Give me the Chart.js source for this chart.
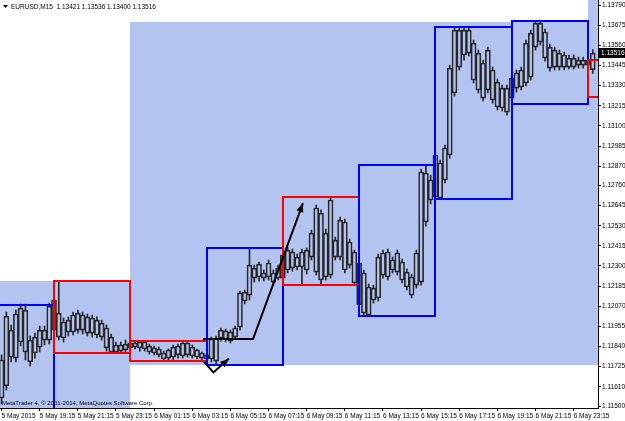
<!DOCTYPE html>
<html>
<head>
<meta charset="utf-8">
<script src="https://cdn.jsdelivr.net/npm/chart.js@4.4.1/dist/chart.umd.min.js"></script>
<style>
  html, body { margin: 0; padding: 0; background: #fff; }
  canvas { display: block; }
</style>
</head>
<body>
<canvas id="chart" width="625" height="421"></canvas>
<script>
// EURUSD M15 candles, bar 0 = 5 May 17:15
const open = [
  1.11546, 1.12014, 1.11780, 1.11774, 1.12060, 1.12048, 1.11752, 1.11803, 1.11837, 1.11934,
  1.11877, 1.11934, 1.12031, 1.11889, 1.11923, 1.11923, 1.12031, 1.12020, 1.12009, 1.12003,
  1.11991, 1.11974, 1.11946, 1.11894, 1.11809, 1.11849, 1.11820, 1.11832, 1.11860, 1.11832,
  1.11866, 1.11843, 1.11832, 1.11826, 1.11769, 1.11774, 1.11780, 1.11843, 1.11786, 1.11860,
  1.11837, 1.11820, 1.11803, 1.11769, 1.11883, 1.11757, 1.11889, 1.11929, 1.11871, 1.11894,
  1.11951, 1.12100, 1.12134, 1.12288, 1.12237, 1.12260, 1.12237, 1.12260, 1.12231, 1.12231,
  1.12391, 1.12288, 1.12351, 1.12294, 1.12277, 1.12351, 1.12265, 1.12602, 1.12237, 1.12248,
  1.12448, 1.12351, 1.12551, 1.12305, 1.12380, 1.12317, 1.12260, 1.12020, 1.12106, 1.12117,
  1.12374, 1.12237, 1.12334, 1.12265, 1.12323, 1.12265, 1.12237, 1.12191, 1.12208, 1.12831,
  1.12677, 1.12694, 1.12888, 1.12791, 1.12934, 1.13288, 1.13647, 1.13505, 1.13647, 1.13573,
  1.13516, 1.13459, 1.13305, 1.13419, 1.13350, 1.13316, 1.13316, 1.13259, 1.13316, 1.13322,
  1.13345, 1.13379, 1.13550, 1.13687, 1.13636, 1.13550, 1.13436, 1.13516, 1.13436, 1.13487,
  1.13436, 1.13476, 1.13447, 1.13476, 1.13421
];
const high = [
  1.11792, 1.12037, 1.11963, 1.12048, 1.12083, 1.12083, 1.11900, 1.11917, 1.11957, 1.11957,
  1.12088, 1.12163, 1.12214, 1.12003, 1.12009, 1.12037, 1.12048, 1.12037, 1.12026, 1.12020,
  1.12009, 1.11991, 1.11963, 1.11911, 1.11866, 1.11866, 1.11877, 1.11871, 1.11866, 1.11871,
  1.11871, 1.11854, 1.11843, 1.11837, 1.11814, 1.11826, 1.11849, 1.11854, 1.11866, 1.11871,
  1.11849, 1.11826, 1.11809, 1.11797, 1.11894, 1.11900, 1.11946, 1.11940, 1.11934, 1.11957,
  1.12157, 1.12163, 1.12403, 1.12305, 1.12323, 1.12277, 1.12334, 1.12277, 1.12305, 1.12380,
  1.12408, 1.12397, 1.12368, 1.12397, 1.12403, 1.12505, 1.12648, 1.12620, 1.12511, 1.12694,
  1.12465, 1.12580, 1.12568, 1.12454, 1.12391, 1.12334, 1.12277, 1.12197, 1.12191, 1.12368,
  1.12391, 1.12397, 1.12351, 1.12391, 1.12340, 1.12283, 1.12254, 1.12391, 1.12854, 1.12876,
  1.12819, 1.12951, 1.12905, 1.12991, 1.13447, 1.13664, 1.13664, 1.13664, 1.13659, 1.13590,
  1.13533, 1.13476, 1.13550, 1.13436, 1.13368, 1.13333, 1.13333, 1.13390, 1.13419, 1.13436,
  1.13590, 1.13647, 1.13699, 1.13699, 1.13653, 1.13567, 1.13550, 1.13533, 1.13522, 1.13505,
  1.13505, 1.13493, 1.13493, 1.13493, 1.13536
];
const low = [
  1.11512, 1.11592, 1.11752, 1.11752, 1.11843, 1.11763, 1.11729, 1.11774, 1.11809, 1.11849,
  1.11854, 1.11900, 1.11877, 1.11866, 1.11900, 1.11906, 1.11917, 1.11911, 1.11900, 1.11894,
  1.11889, 1.11877, 1.11814, 1.11803, 1.11803, 1.11803, 1.11809, 1.11820, 1.11826, 1.11814,
  1.11814, 1.11797, 1.11792, 1.11780, 1.11757, 1.11763, 1.11763, 1.11774, 1.11774, 1.11780,
  1.11774, 1.11769, 1.11763, 1.11757, 1.11752, 1.11740, 1.11871, 1.11866, 1.11860, 1.11883,
  1.11934, 1.12083, 1.12106, 1.12208, 1.12214, 1.12214, 1.12220, 1.12191, 1.12220, 1.12208,
  1.12260, 1.12271, 1.12277, 1.12191, 1.12254, 1.12334, 1.12248, 1.12197, 1.12220, 1.12231,
  1.12334, 1.12334, 1.12260, 1.12288, 1.12191, 1.12060, 1.12020, 1.12014, 1.12088, 1.12100,
  1.12231, 1.12220, 1.12260, 1.12248, 1.12203, 1.12163, 1.12117, 1.12174, 1.12191, 1.12528,
  1.12654, 1.12682, 1.12682, 1.12774, 1.12916, 1.13270, 1.13419, 1.13476, 1.13499, 1.13345,
  1.13288, 1.13242, 1.13288, 1.13230, 1.13191, 1.13185, 1.13162, 1.13225, 1.13293, 1.13305,
  1.13328, 1.13362, 1.13533, 1.13562, 1.13470, 1.13413, 1.13419, 1.13419, 1.13419, 1.13425,
  1.13425, 1.13430, 1.13430, 1.13430, 1.13400
];
const close = [
  1.11763, 1.11615, 1.11934, 1.12026, 1.11866, 1.11809, 1.11877, 1.11894, 1.11934, 1.11877,
  1.12071, 1.12106, 1.11894, 1.11980, 1.11991, 1.12020, 1.11934, 1.11934, 1.11917, 1.11917,
  1.11906, 1.11894, 1.11832, 1.11809, 1.11849, 1.11814, 1.11854, 1.11860, 1.11837, 1.11866,
  1.11826, 1.11809, 1.11803, 1.11792, 1.11803, 1.11820, 1.11837, 1.11792, 1.11860, 1.11792,
  1.11786, 1.11780, 1.11774, 1.11792, 1.11769, 1.11889, 1.11934, 1.11883, 1.11923, 1.11946,
  1.12146, 1.12151, 1.12305, 1.12231, 1.12311, 1.12231, 1.12317, 1.12208, 1.12288, 1.12363,
  1.12277, 1.12380, 1.12294, 1.12380, 1.12391, 1.12488, 1.12631, 1.12220, 1.12488, 1.12677,
  1.12351, 1.12562, 1.12277, 1.12437, 1.12203, 1.12077, 1.12031, 1.12180, 1.12174, 1.12351,
  1.12248, 1.12380, 1.12277, 1.12374, 1.12220, 1.12180, 1.12134, 1.12374, 1.12837, 1.12551,
  1.12791, 1.12934, 1.12688, 1.12974, 1.13430, 1.13647, 1.13436, 1.13647, 1.13516, 1.13362,
  1.13305, 1.13259, 1.13533, 1.13248, 1.13208, 1.13202, 1.13179, 1.13373, 1.13402, 1.13419,
  1.13573, 1.13630, 1.13687, 1.13579, 1.13487, 1.13430, 1.13533, 1.13436, 1.13505, 1.13436,
  1.13487, 1.13447, 1.13476, 1.13447, 1.13516
];

// time axis: bar index of each label, and its text
const labelBars = [0, 8, 16, 24, 32, 40, 48, 56, 64, 72, 80, 88, 96, 104, 112, 120];
const timeLabels = [
  '5 May 2015', '5 May 19:15', '5 May 21:15', '5 May 23:15', '6 May 01:15', '6 May 03:15',
  '6 May 05:15', '6 May 07:15', '6 May 09:15', '6 May 11:15', '6 May 13:15', '6 May 15:15',
  '6 May 17:15', '6 May 19:15', '6 May 21:15', '6 May 23:15'
];
// price axis ticks
const priceTicks = [
  1.11500, 1.11610, 1.11725, 1.11840, 1.11955, 1.12070, 1.12185, 1.12300, 1.12415, 1.12530,
  1.12645, 1.12760, 1.12870, 1.12985, 1.13100, 1.13215, 1.13330, 1.13445, 1.13560, 1.13675, 1.13790
];

// 4-hour range boxes (bar index from / to, high, low, direction)
const boxFrom = [-5, 11, 27, 43, 59, 75, 91, 107, 123];
const boxTo = [11, 27, 43, 59, 75, 91, 107, 123, 139];
const boxHigh = [1.12080, 1.12214, 1.11873, 1.12404, 1.12695, 1.12876, 1.13664, 1.13699, 1.13476];
const boxLow = [1.11000, 1.11803, 1.11757, 1.11736, 1.12191, 1.12014, 1.12682, 1.13225, 1.13265];
const boxDir = ['up', 'down', 'down', 'up', 'down', 'up', 'up', 'up', 'down'];

// shaded areas (bar index from / to, top price, bottom price)
const shadeFrom = [-5, 27, 123];
const shadeTo = [27, 140, 140];
const shadeTop = [1.12214, 1.13693, 1.14000];
const shadeBottom = [1.11000, 1.11734, 1.13265];

// hand-drawn arrows, [bar index, price] points
const breakoutArrow = [[42.25, 1.11883], [52.74, 1.11883], [63.22, 1.12659]];
const dipArrow = [[42.46, 1.11752], [44.45, 1.11692], [47.7, 1.11771]];

const SHADE = '#b4c4f0';
const CANDLE = '#262626';
const FONT = '"Liberation Sans", Arial, sans-serif';

const idx = open.map((_, i) => i);
const upperWick = idx.map(i => ({ x: i, y: [Math.max(open[i], close[i]), high[i]] }));
const lowerWick = idx.map(i => ({ x: i, y: [low[i], Math.min(open[i], close[i])] }));
const bodies = idx.map(i => ({ x: i, y: [open[i], close[i]] }));

function arrowLine(ctx, chart, pts) {
  const xs = chart.scales.x, ys = chart.scales.y;
  const p = pts.map(([b, v]) => [xs.getPixelForValue(b), ys.getPixelForValue(v)]);
  ctx.strokeStyle = '#000';
  ctx.lineWidth = 2;
  ctx.beginPath();
  p.forEach(([x, y], k) => (k ? ctx.lineTo(x, y) : ctx.moveTo(x, y)));
  ctx.stroke();
  // arrow head at the last point
  const [x1, y1] = p[p.length - 1];
  const [x0, y0] = p[p.length - 2];
  const a = Math.atan2(y1 - y0, x1 - x0);
  ctx.fillStyle = '#000';
  ctx.beginPath();
  ctx.moveTo(x1, y1);
  ctx.lineTo(x1 - 9 * Math.cos(a) + 3.5 * Math.sin(a), y1 - 9 * Math.sin(a) - 3.5 * Math.cos(a));
  ctx.lineTo(x1 - 9 * Math.cos(a) - 3.5 * Math.sin(a), y1 - 9 * Math.sin(a) + 3.5 * Math.cos(a));
  ctx.closePath();
  ctx.fill();
}

const mt4Plugin = {
  id: 'mt4',
  beforeDatasetsDraw(chart) {
    const { ctx, chartArea: a } = chart;
    const xs = chart.scales.x, ys = chart.scales.y;
    ctx.save();
    ctx.beginPath();
    ctx.rect(a.left, a.top, a.right - a.left, a.bottom - a.top);
    ctx.clip();
    ctx.fillStyle = SHADE;
    shadeFrom.forEach((f, k) => {
      const x0 = Math.round(xs.getPixelForValue(f));
      const x1 = Math.round(xs.getPixelForValue(shadeTo[k]));
      const y0 = Math.round(ys.getPixelForValue(shadeTop[k]));
      const y1 = Math.round(ys.getPixelForValue(shadeBottom[k]));
      ctx.fillRect(x0, y0, x1 - x0, y1 - y0);
    });
    ctx.restore();
  },
  afterDatasetsDraw(chart) {
    const { ctx, chartArea: a } = chart;
    const xs = chart.scales.x, ys = chart.scales.y;
    ctx.save();
    ctx.beginPath();
    ctx.rect(a.left, a.top, a.right - a.left, a.bottom - a.top);
    ctx.clip();
    ctx.lineWidth = 2;
    boxFrom.forEach((f, k) => {
      const x0 = Math.round(xs.getPixelForValue(f));
      const x1 = Math.round(xs.getPixelForValue(boxTo[k]));
      const y0 = Math.round(ys.getPixelForValue(boxHigh[k]));
      const y1 = Math.round(ys.getPixelForValue(boxLow[k]));
      ctx.strokeStyle = boxDir[k] === 'up' ? '#0000ff' : '#ff0000';
      ctx.strokeRect(x0, y0, x1 - x0, y1 - y0);
    });
    arrowLine(ctx, chart, breakoutArrow);
    arrowLine(ctx, chart, dipArrow);
    ctx.restore();
  },
  afterDraw(chart) {
    const { ctx, chartArea: a } = chart;
    const ys = chart.scales.y;
    const last = close.length - 1;
    ctx.save();
    // header
    ctx.fillStyle = '#000';
    ctx.beginPath();
    ctx.moveTo(3, 5); ctx.lineTo(8, 5); ctx.lineTo(5.5, 8); ctx.closePath();
    ctx.fill();
    ctx.font = '6.5px ' + FONT;
    ctx.textBaseline = 'middle';
    ctx.textAlign = 'left';
    const quote = [open[last], high[last], low[last], close[last]].map(v => v.toFixed(5)).join(' ');
    ctx.fillText('EURUSD,M15  ' + quote, 11, 7);
    ctx.font = '6px ' + FONT;
    ctx.fillText('MetaTrader 4, \u00a9 2001-2014, MetaQuotes Software Corp.', 2, 403);
    // current price label
    const py = Math.round(ys.getPixelForValue(close[last]));
    ctx.fillRect(a.right + 1, py - 5, 27, 10);
    ctx.fillStyle = '#fff';
    ctx.font = '6.5px ' + FONT;
    ctx.fillText(close[last].toFixed(5), a.right + 3, py);
    ctx.restore();
  }
};

new Chart(document.getElementById('chart'), {
  type: 'bar',
  data: {
    datasets: [
      { data: bodies, order: 0, grouped: false, barThickness: 5, borderWidth: 1,
        borderColor: CANDLE, backgroundColor: 'rgba(0,0,0,0)', borderSkipped: false },
      { data: upperWick, order: 1, grouped: false, barThickness: 1, borderWidth: 0,
        backgroundColor: CANDLE },
      { data: lowerWick, order: 2, grouped: false, barThickness: 1, borderWidth: 0,
        backgroundColor: CANDLE }
    ]
  },
  options: {
    responsive: false,
    animation: false,
    devicePixelRatio: 1,
    layout: { padding: 0 },
    plugins: { legend: { display: false }, tooltip: { enabled: false } },
    scales: {
      x: {
        type: 'linear',
        offset: false,
        min: -0.33,
        max: 125.1,
        afterBuildTicks: s => { s.ticks = labelBars.map(v => ({ value: v })); },
        afterFit: s => { s.height = 13; s.paddingLeft = 0; s.paddingRight = 0; },
        ticks: {
          autoSkip: false, maxRotation: 0, align: 'start', padding: 1,
          color: '#000', font: { family: FONT, size: 6.5 },
          callback: (v, i) => timeLabels[i]
        },
        grid: { drawOnChartArea: false, offset: false, tickLength: 3, color: '#000' },
        border: { color: '#000', width: 1 }
      },
      y: {
        position: 'right',
        min: 1.11489,
        max: 1.13819,
        afterBuildTicks: s => { s.ticks = priceTicks.map(v => ({ value: v })); },
        afterFit: s => { s.width = 27; s.paddingTop = 0; s.paddingBottom = 0; },
        ticks: {
          padding: 1, color: '#000', font: { family: FONT, size: 6.5 },
          callback: v => v.toFixed(5)
        },
        grid: { drawOnChartArea: false, tickLength: 3, color: '#000' },
        border: { color: '#000', width: 1 }
      }
    }
  },
  plugins: [mt4Plugin]
});
</script>
</body>
</html>
